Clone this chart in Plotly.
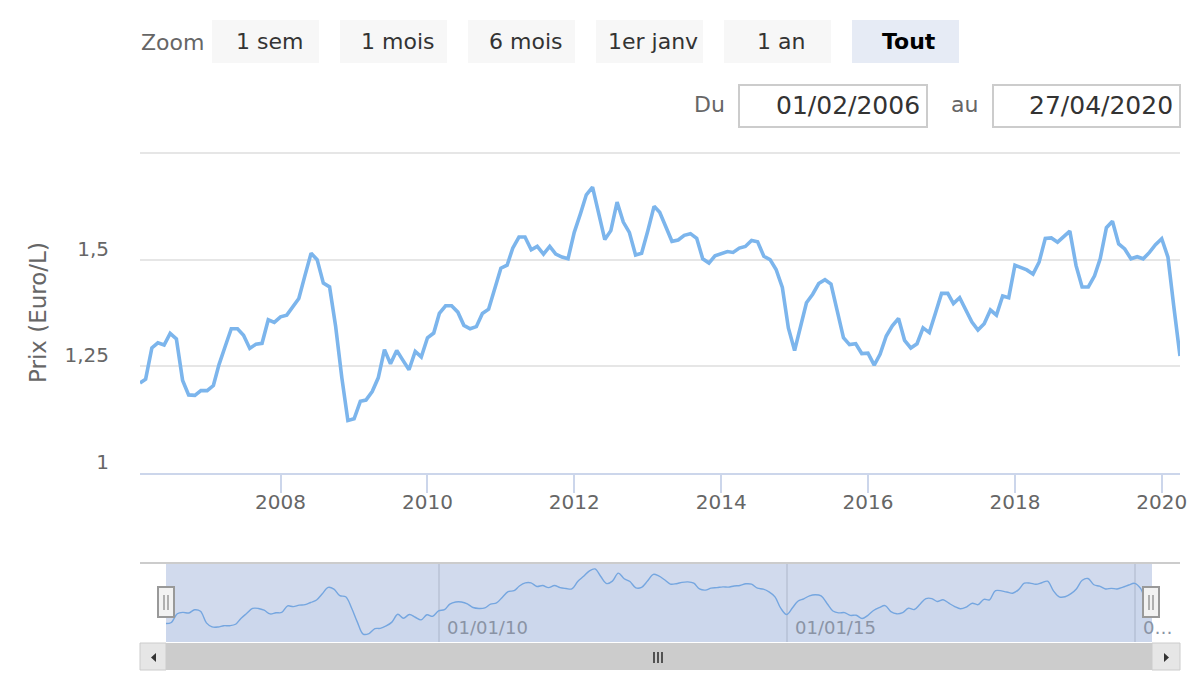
import plotly.graph_objects as go

# ---------------- data (monthly fuel price, Euro/L) ----------------
mois_2006 = [2, 3, 4, 5, 6, 7, 8, 9, 10, 11, 12]
prix_2006 = [1.211, 1.220, 1.293, 1.305, 1.300, 1.327, 1.314, 1.217, 1.183, 1.182, 1.193]
mois_2007 = list(range(1, 13))
prix_2007 = [1.193, 1.205, 1.254, 1.297, 1.338, 1.338, 1.323, 1.292, 1.302, 1.304, 1.359, 1.353]
mois_2008 = list(range(1, 13))
prix_2008 = [1.366, 1.370, 1.388, 1.409, 1.462, 1.515, 1.500, 1.445, 1.436, 1.344, 1.223, 1.123]
mois_2009 = list(range(1, 13))
prix_2009 = [1.127, 1.168, 1.171, 1.191, 1.223, 1.289, 1.256, 1.287, 1.264, 1.242, 1.285, 1.272]
mois_2010 = list(range(1, 13))
prix_2010 = [1.317, 1.328, 1.374, 1.392, 1.392, 1.377, 1.346, 1.338, 1.343, 1.374, 1.384, 1.431]
mois_2011 = list(range(1, 13))
prix_2011 = [1.480, 1.487, 1.527, 1.553, 1.553, 1.523, 1.531, 1.513, 1.531, 1.513, 1.506, 1.502]
mois_2012 = list(range(1, 13))
prix_2012 = [1.564, 1.608, 1.652, 1.670, 1.606, 1.547, 1.568, 1.635, 1.588, 1.564, 1.511, 1.515]
mois_2013 = list(range(1, 13))
prix_2013 = [1.568, 1.625, 1.611, 1.579, 1.543, 1.546, 1.557, 1.561, 1.550, 1.502, 1.492, 1.509]
mois_2014 = list(range(1, 13))
prix_2014 = [1.513, 1.519, 1.517, 1.527, 1.531, 1.545, 1.542, 1.508, 1.500, 1.477, 1.435, 1.340]
mois_2015 = list(range(1, 13))
prix_2015 = [1.287, 1.344, 1.399, 1.419, 1.444, 1.453, 1.443, 1.380, 1.317, 1.301, 1.303, 1.280]
mois_2016 = list(range(1, 13))
prix_2016 = [1.281, 1.253, 1.278, 1.321, 1.345, 1.362, 1.311, 1.293, 1.303, 1.340, 1.329, 1.374]
mois_2017 = list(range(1, 13))
prix_2017 = [1.421, 1.421, 1.397, 1.411, 1.382, 1.354, 1.335, 1.350, 1.382, 1.370, 1.415, 1.411]
mois_2018 = [1, 3, 4, 5, 6, 7, 8, 9, 10, 11, 12]
prix_2018 = [1.487, 1.476, 1.466, 1.494, 1.550, 1.551, 1.541, 1.554, 1.567, 1.486, 1.436]
mois_2019 = list(range(1, 13))
prix_2019 = [1.436, 1.462, 1.502, 1.575, 1.590, 1.537, 1.525, 1.502, 1.507, 1.502, 1.517, 1.535]
mois_2020 = [1, 2, 3, 4]
prix_2020 = [1.549, 1.506, 1.391, 1.274]

annees = [
    (2006, mois_2006, prix_2006), (2007, mois_2007, prix_2007), (2008, mois_2008, prix_2008),
    (2009, mois_2009, prix_2009), (2010, mois_2010, prix_2010), (2011, mois_2011, prix_2011),
    (2012, mois_2012, prix_2012), (2013, mois_2013, prix_2013), (2014, mois_2014, prix_2014),
    (2015, mois_2015, prix_2015), (2016, mois_2016, prix_2016), (2017, mois_2017, prix_2017),
    (2018, mois_2018, prix_2018), (2019, mois_2019, prix_2019), (2020, mois_2020, prix_2020),
]
dates, prix = [], []
for an, mois, vals in annees:
    for m, v in zip(mois, vals):
        dates.append(f"{an}-{m:02d}-01")
        prix.append(v)

x_ticks = ["2008-01-01", "2010-01-01", "2012-01-01", "2014-01-01", "2016-01-01", "2018-01-01", "2020-01-01"]
x_ticktext = ["2008", "2010", "2012", "2014", "2016", "2018", "2020"]
y_ticks = [1.0, 1.25, 1.5, 1.75]
y_ticktext = ["1", "1,25", "1,5", ""]
nav_ticks = ["2010-01-01", "2015-01-01", "2020-01-01"]
nav_ticktext = ["01/01/10", "01/01/15", "0…"]
boutons = ["1 sem", "1 mois", "6 mois", "1er janv", "1 an", "Tout"]
date_debut = "01/02/2006"
date_fin = "27/04/2020"

# ---------------- layout helpers ----------------
W, H = 1200, 700
FONT = "DejaVu Sans"


def fx(x):
    return x / W


def fy(y):
    return 1 - y / H


fig = go.Figure()
fig.add_trace(go.Scatter(x=dates, y=prix, mode="lines", xaxis="x", yaxis="y",
                         line=dict(color="#7cb5ec", width=3.6), showlegend=False,
                         hovertemplate="%{x|%d/%m/%Y}: %{y:.3f} €/L<extra></extra>"))
fig.add_trace(go.Scatter(x=dates, y=prix, mode="lines", xaxis="x2", yaxis="y2",
                         line=dict(color="#7cb5ec", width=1.4, shape="spline"),
                         fill="tozeroy", fillcolor="rgba(124,181,236,0.05)",
                         showlegend=False, hoverinfo="skip"))

shapes = []
annotations = []

# range-selector buttons
btn_x = [212, 340, 468, 596, 724, 852]
for i, (b, x0) in enumerate(zip(boutons, btn_x)):
    sel = (b == "Tout")
    shapes.append(dict(type="rect", xref="paper", yref="paper", x0=fx(x0), x1=fx(x0 + 107),
                       y0=fy(63), y1=fy(20), fillcolor="#e6ebf5" if sel else "#f7f7f7",
                       line=dict(width=0), layer="below"))
    annotations.append(dict(xref="paper", yref="paper", x=fx(x0 + 57), y=fy(41), text=f"<b>{b}</b>" if sel else b,
                            showarrow=False, xanchor="center", yanchor="middle",
                            font=dict(family=FONT, size=22, color="#000000" if sel else "#333333")))
annotations.append(dict(xref="paper", yref="paper", x=fx(139), y=fy(42), text="Zoom", showarrow=False,
                        xanchor="left", yanchor="middle", font=dict(family=FONT, size=22, color="#666666")))

# date inputs
annotations.append(dict(xref="paper", yref="paper", x=fx(727), y=fy(104), text="Du", showarrow=False,
                        xanchor="right", yanchor="middle", font=dict(family=FONT, size=22, color="#666666")))
annotations.append(dict(xref="paper", yref="paper", x=fx(949), y=fy(104), text="au", showarrow=False,
                        xanchor="left", yanchor="middle", font=dict(family=FONT, size=22, color="#666666")))
for (x0, x1, txt) in [(739, 927, date_debut), (993, 1180, date_fin)]:
    shapes.append(dict(type="rect", xref="paper", yref="paper", x0=fx(x0), x1=fx(x1), y0=fy(127), y1=fy(85),
                       fillcolor="white", line=dict(color="#cccccc", width=2), layer="below"))
    annotations.append(dict(xref="paper", yref="paper", x=fx(x1 - 5), y=fy(105), text=txt, showarrow=False,
                            xanchor="right", yanchor="middle", font=dict(family=FONT, size=25, color="#333333")))

# y-axis title
annotations.append(dict(xref="paper", yref="paper", x=fx(38), y=fy(313), text="Prix (Euro/L)", textangle=-90,
                        showarrow=False, xanchor="center", yanchor="middle",
                        font=dict(family=FONT, size=23, color="#666666")))

# navigator
NAV_T, NAV_B, NAV_L, NAV_R = 563, 642, 166, 1152
shapes.append(dict(type="line", xref="paper", yref="paper", x0=fx(140), x1=fx(1180), y0=fy(NAV_T), y1=fy(NAV_T),
                   line=dict(color="#cccccc", width=2)))
shapes.append(dict(type="rect", xref="paper", yref="paper", x0=fx(NAV_L), x1=fx(NAV_R), y0=fy(NAV_B), y1=fy(NAV_T + 1),
                   fillcolor="rgba(102,133,194,0.3)", line=dict(width=0), layer="above"))
for t, lab in zip(nav_ticks, nav_ticktext):
    annotations.append(dict(xref="x2", yref="paper", x=t, y=fy(627), text=lab, showarrow=False, xanchor="left",
                            yanchor="middle", xshift=6, font=dict(family=FONT, size=18, color="#8a93a5")))

# scrollbar
SB_T, SB_B = 643, 670
shapes.append(dict(type="rect", xref="paper", yref="paper", x0=fx(140), x1=fx(1180), y0=fy(SB_B), y1=fy(SB_T),
                   fillcolor="#f2f2f2", line=dict(width=0), layer="above"))
shapes.append(dict(type="rect", xref="paper", yref="paper", x0=fx(NAV_L), x1=fx(NAV_R), y0=fy(SB_B), y1=fy(SB_T),
                   fillcolor="#cccccc", line=dict(width=0), layer="above"))
for (x0, x1) in [(140, 166), (1152, 1180)]:
    shapes.append(dict(type="rect", xref="paper", yref="paper", x0=fx(x0), x1=fx(x1), y0=fy(SB_B), y1=fy(SB_T),
                       fillcolor="#e6e6e6", line=dict(color="#cccccc", width=1), layer="above"))
shapes.append(dict(type="path", xref="paper", yref="paper", layer="above",
                   path=f"M {fx(156)} {fy(653)} L {fx(151)} {fy(657.5)} L {fx(156)} {fy(662)} Z",
                   fillcolor="#333333", line=dict(width=0)))
shapes.append(dict(type="path", xref="paper", yref="paper", layer="above",
                   path=f"M {fx(1164)} {fy(653)} L {fx(1169)} {fy(657.5)} L {fx(1164)} {fy(662)} Z",
                   fillcolor="#333333", line=dict(width=0)))
for xr in [654, 658, 662]:
    shapes.append(dict(type="line", xref="paper", yref="paper", x0=fx(xr), x1=fx(xr), y0=fy(652), y1=fy(663),
                       line=dict(color="#333333", width=1.6), layer="above"))

# handles
for xc in [NAV_L, NAV_R - 1]:
    shapes.append(dict(type="rect", xref="paper", yref="paper", x0=fx(xc - 8), x1=fx(xc + 8), y0=fy(617), y1=fy(587),
                       fillcolor="#f2f2f2", line=dict(color="#999999", width=2), layer="above"))
    for dx in [-2, 2]:
        shapes.append(dict(type="line", xref="paper", yref="paper", x0=fx(xc + dx), x1=fx(xc + dx),
                           y0=fy(595), y1=fy(610), line=dict(color="#999999", width=1.5), layer="above"))

xaxis_cfg = dict(domain=[fx(140), fx(1180)], anchor="y", type="date", range=[dates[0], dates[-1]],
                 tickvals=x_ticks, ticktext=x_ticktext, showgrid=False, zeroline=False, automargin=False,
                 showline=True, linecolor="#ccd6eb", linewidth=2, ticks="outside", ticklen=18,
                 tickwidth=2, tickcolor="#ccd6eb", tickfont=dict(family=FONT, size=20, color="#666666"))

fig.update_layout(
    width=W, height=H, autosize=False, margin=dict(l=0, r=0, t=0, b=0, pad=0, autoexpand=False),
    paper_bgcolor="white", plot_bgcolor="white", showlegend=False,
    font=dict(family=FONT, color="#666666"),
    xaxis=xaxis_cfg,
    yaxis=dict(domain=[fy(473), fy(151.5)], anchor="x", range=[1.0, 1.7535], tickvals=y_ticks, ticktext=y_ticktext,
               showgrid=True, gridcolor="#e6e6e6", gridwidth=2, zeroline=False, showline=False, ticks="",
               ticklabelshift=-11, ticklabelstandoff=30, automargin=False,
               tickfont=dict(family=FONT, size=20, color="#666666")),
    xaxis2=dict(domain=[fx(NAV_L), fx(NAV_R)], anchor="y2", type="date", range=[dates[0], dates[-1]],
                tickvals=nav_ticks, showticklabels=False, showgrid=True, gridcolor="#e6e6e6", gridwidth=1.5,
                zeroline=False, showline=False, ticks="", automargin=False),
    yaxis2=dict(domain=[fy(NAV_B), fy(NAV_T)], anchor="x2", range=[1.056, 1.72], showgrid=False,
                showticklabels=False, zeroline=False, showline=False, ticks="", automargin=False),
    shapes=shapes, annotations=annotations,
)
try:
    fig.update_xaxes(ticklabelstandoff=-8, selector=dict(anchor="y"))
except Exception:
    pass

fig.write_html("out.html", config={"displayModeBar": False, "responsive": False},
               post_script="document.body.style.margin='0';document.body.style.overflow='hidden';")
